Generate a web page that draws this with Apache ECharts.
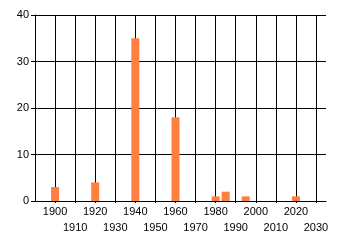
<!DOCTYPE html>
<html>
<head>
<meta charset="utf-8">
<script src="https://cdn.jsdelivr.net/npm/echarts@6/dist/echarts.min.js"></script>
<style>
html,body{margin:0;padding:0;background:#fff;}
#c{width:340px;height:245px;}
</style>
</head>
<body>
<div id="c"></div>
<script>
const years = [1900, 1920, 1940, 1960, 1980, 1985, 1995, 2020];
const counts = [3, 4, 35, 18, 1, 2, 1, 1];
const xMin = 1890, xMax = 2035, xStep = 10;
const yMin = 0, yMax = 40, yStep = 10;

const chart = echarts.init(document.getElementById('c'), null, {renderer: 'canvas'});
const font = 'Liberation Sans, Arial, sans-serif';
chart.setOption({
  animation: false,
  backgroundColor: '#ffffff',
  grid: {left: 35, right: 14, top: 15, bottom: 44, containLabel: false},
  xAxis: {
    type: 'value', min: xMin, max: xMax, interval: xStep,
    axisLine: {show: true, lineStyle: {color: '#000', width: 1}},
    axisTick: {show: true, length: 2, lineStyle: {color: '#000'}},
    splitLine: {show: true, showMinLine: false, showMaxLine: false, lineStyle: {color: '#000', width: 1}},
    axisLabel: {
      color: '#000', fontFamily: font, fontSize: 11, margin: 3, lineHeight: 16,
      showMinLabel: false, showMaxLabel: false,
      formatter: function (v) {
        if (v <= xMin || v >= xMax) return '';
        return (Math.round(v / 10) % 2 === 0) ? String(v) : '\n' + v;
      }
    }
  },
  yAxis: {
    type: 'value', min: yMin, max: yMax, interval: yStep,
    axisLine: {show: true, lineStyle: {color: '#000', width: 1}},
    axisTick: {show: true, length: 4, lineStyle: {color: '#000'}},
    splitLine: {show: true, lineStyle: {color: '#000', width: 1}},
    axisLabel: {color: '#000', fontFamily: font, fontSize: 11, margin: 6}
  },
  series: [{
    type: 'bar',
    barWidth: 8,
    itemStyle: {color: '#ff7f40'},
    data: years.map((y, i) => [y, counts[i]])
  }]
});
</script>
</body>
</html>
